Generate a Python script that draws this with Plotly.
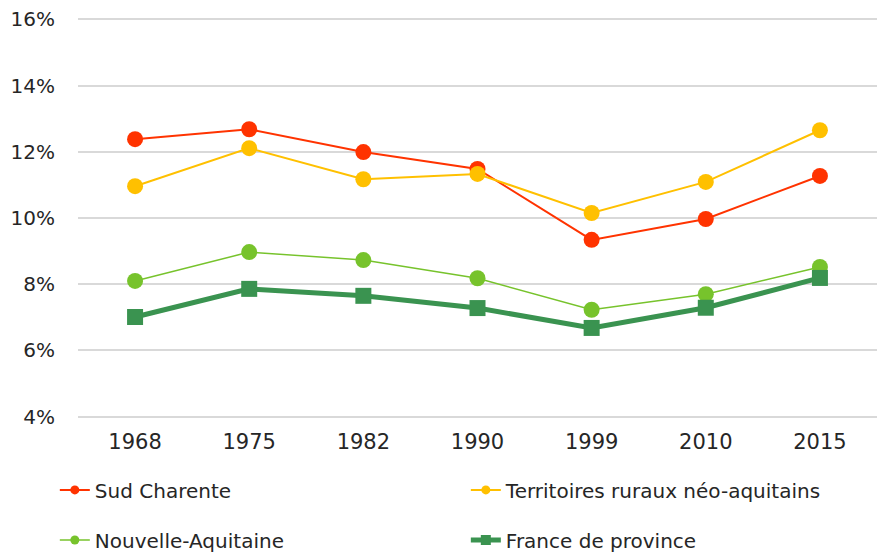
import plotly.graph_objects as go

years = ["1968", "1975", "1982", "1990", "1999", "2010", "2015"]
sud_charente = [12.38, 12.68, 11.99, 11.48, 9.34, 9.97, 11.27]
territoires = [10.96, 12.11, 11.17, 11.33, 10.15, 11.09, 12.65]
nouvelle_aquitaine = [8.10, 8.97, 8.73, 8.18, 7.23, 7.70, 8.52]
france_province = [7.01, 7.86, 7.65, 7.28, 6.68, 7.29, 8.19]
y_ticks = [4, 6, 8, 10, 12, 14, 16]
y_tick_labels = ["4%", "6%", "8%", "10%", "12%", "14%", "16%"]

FONT = "DejaVu Sans"
TXT = "#262626"

series = [
    ("Sud Charente", sud_charente, "#FF3300", 2, "circle", "legend"),
    ("Territoires ruraux néo-aquitains", territoires, "#FFC000", 2, "circle", "legend"),
    ("Nouvelle-Aquitaine", nouvelle_aquitaine, "#77C32C", 1.5, "circle", "legend2"),
    ("France de province", france_province, "#3A9350", 5, "square", "legend2"),
]

fig = go.Figure()
for name, vals, color, lw, sym, leg in series:
    fig.add_trace(go.Scatter(x=years, y=vals, name=name, mode="lines+markers",
                             line=dict(color=color, width=lw),
                             marker=dict(symbol=sym, size=16, color=color),
                             showlegend=False))
for name, vals, color, lw, sym, leg in series:
    # legend-only entries with the smaller symbols used in the reference legend
    fig.add_trace(go.Scatter(x=[None], y=[None], name=name, mode="lines+markers",
                             line=dict(color=color, width=lw),
                             marker=dict(symbol=sym, size=9 if sym == "circle" else 10, color=color),
                             legend=leg, showlegend=True, hoverinfo="skip"))

legend_common = dict(orientation="h", xanchor="left", yanchor="middle", x=-0.029,
                     font=dict(family=FONT, size=20, color=TXT), entrywidth=366,
                     bgcolor="rgba(0,0,0,0)")

fig.update_layout(
    width=877, height=552,
    margin=dict(l=78, r=0, t=16, b=132, autoexpand=False),
    paper_bgcolor="white", plot_bgcolor="white",
    font=dict(family=FONT, size=20, color=TXT),
    showlegend=True,
    legend=dict(y=-0.173, **legend_common),
    legend2=dict(y=-0.297, **legend_common),
    xaxis=dict(type="category", range=[-0.5, 6.5], showgrid=False, showline=False,
               ticks="", tickfont=dict(family=FONT, size=21, color=TXT), ticklabelstandoff=7),
    yaxis=dict(range=[3.9, 16.1], tickvals=y_ticks, ticktext=y_tick_labels, showgrid=True,
               gridcolor="#D9D9D9", gridwidth=1.5, zeroline=False, showline=False, ticks="",
               tickfont=dict(family=FONT, size=20, color=TXT), ticklabelstandoff=22),
)

fig.write_html("out.html", config={"displayModeBar": False},
               post_script="document.body.style.margin='0';document.body.style.overflow='hidden';")
